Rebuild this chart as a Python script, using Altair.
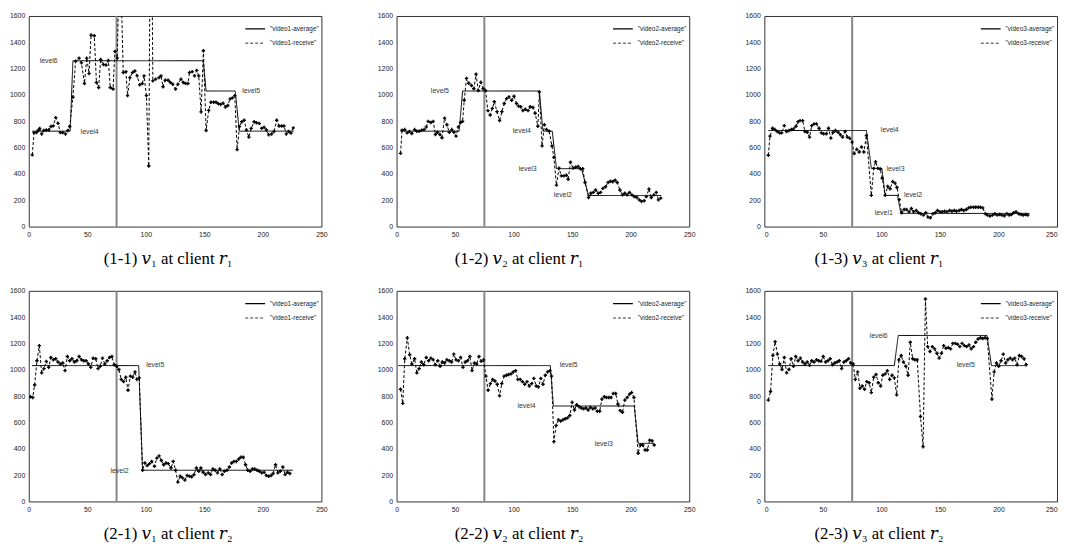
import altair as alt
import pandas as pd

# ---------------- data ----------------
# (1-1) video1 at r1
r11_recv = [(3,545),(4.5,714),(6.5,714),(8,730),(9.3,746),(11,704),(12.7,730),(15,734),(17,734),(19,760),
            (21,765),(23,828),(25,784),(27,714),(29,714),(31.4,704),(33.4,730),(35,760),(37.7,983),(40,1256),
            (43,1280),(45,1244),(47.6,1087),(49.5,1280),(51.5,1162),(53.2,1455),(56,1450),(57.8,1095),(59.7,1057),
            (61.4,1269),(63.7,1232),(66,1227),(68,1262),(69.6,1057),(72,1045),(73.6,1331),(75.6,1280),(77.8,2200),
            (80.7,1170),(83,1177),(84.4,995),(86.4,1132),(88.6,1170),(90.6,1182),(92.6,1145),(94.8,1077),(97,1087),
            (98.5,1145),(100.5,995),(102.5,460),(104.3,3000),(106,1107),(108.4,1120),(111.3,1132),(113,1145),
            (114.7,1062),(116.6,1112),(119,1112),(121,1095),(123,1082),(125.4,1045),(127.4,1082),(130,1120),
            (132,1095),(134,1087),(136,1087),(137.3,1170),(139.6,1177),(141.6,1145),(143.5,1187),(145.2,1145),
            (147.2,871),(149.2,1336),(151.5,730),(153.7,883),(155.7,945),(158,945),(160,945),(162,933),(164,928),
            (166,938),(168,908),(170,920),(172,970),(174,978),(176,995),(178,585),(180,760),(182,796),(184,808),
            (186,734),(188,680),(190,746),(192.5,796),(194.5,789),(196.8,784),(199,746),(201,754),(203,734),
            (205,697),(207.5,704),(209.5,722),(211.8,808),(213.8,764),(216,764),(218,764),(220,704),(222,722),
            (224,710),(226,750)]
r11_avg = [(3,725),(35.4,725),(37.7,1260),(149,1260),(151.5,1030),(176.4,1030),(179.8,725),(226.5,725)]
r11_lab = [("level6",17,1256),("level4",52,722),("level5",190,1028)]

# (1-2) video2 at r1
r12_recv = [(3.4,556),(4.7,732),(7,737),(9,712),(11,722),(13,707),(15.4,737),(17.3,724),(19.3,724),(21.5,732),
            (23.5,737),(25.4,757),(27,799),(29.3,791),(31.3,799),(33.2,700),(35,717),(37,700),(38.8,675),(41,824),
            (43,774),(45,717),(47.2,737),(49,717),(50.8,687),(52.8,757),(54.7,791),(56.4,799),(57.8,960),
            (59.8,1126),(61.7,1089),(64,1072),(66,1047),(67.9,1158),(69.8,1034),(72,1096),(74,1047),(76,1034),
            (78,881),(80,848),(81.8,898),(83.5,948),(85.8,873),(88,806),(90,873),(92,935),(94,972),(96,985),
            (98.3,960),(100.3,990),(102.5,935),(104.2,915),(106,910),(108,881),(110,891),(112.3,881),(114.2,910),
            (116.5,905),(118.4,861),(120.7,762),(122,1022),(124.3,613),(126.3,774),(128.2,737),(130.4,724),
            (132.7,613),(134.4,526),(136.6,315),(138.8,444),(140.8,385),(143,385),(145,390),(146.6,360),
            (148.6,489),(150.8,444),(152.8,451),(155,456),(157,439),(159,439),(161,335),(164,221),(166,253),
            (168,260),(170,278),(172.3,253),(174.3,260),(176.3,290),(178.5,303),(180.7,335),(182.7,345),
            (184.6,340),(186.6,352),(188.5,335),(190.8,278),(193,241),(195,253),(197,241),(199,260),(201,241),
            (203,228),(205.3,221),(207.3,203),(209.2,191),(211.5,196),(213.4,228),(215.6,285),(217.6,221),
            (219.8,241),(221.8,260),(223.7,203),(225.7,216)]
r12_avg = [(3.4,725),(53.5,725),(56.4,1030),(122,1030),(125,725),(133,725),(136.6,440),(158,440),(164,236),(226,236)]
r12_lab = [("level5",37,1030),("level4",107,725),("level3",112,440),("level2",142,236)]

# (1-3) video3 at r1
r13_recv = [(3.4,542),(4.8,687),(7,747),(9,737),(11,722),(13,712),(14.8,712),(17,767),(19,722),(21,730),
            (23,737),(24.9,742),(27,762),(28.8,797),(30.5,805),(32.7,805),(34.7,722),(36.6,717),(38.6,680),
            (40.5,767),(42.5,780),(44.5,780),(46.7,747),(48.7,712),(50.6,705),(52.9,705),(54.8,747),(56.8,672),
            (58.7,717),(60.7,730),(63,717),(65,697),(66.8,680),(69,722),(70.9,680),(72.8,672),(75,642),(76.8,555),
            (79,587),(81,567),(83,605),(85,567),(87.2,692),(91.4,237),(93.4,442),(95,492),(97,442),(99,437),
            (100.7,367),(103.2,237),(105.4,305),(107.4,287),(109.6,342),(111.6,330),(113.3,297),(115.2,205),
            (117.2,105),(119.4,130),(121.4,130),(123.6,112),(125.6,137),(127.5,112),(129.7,122),(131.7,105),
            (133.7,97),(135.9,87),(137.9,105),(139.8,72),(141.8,67),(144,97),(146,105),(147.9,122),(150,112),
            (152,112),(154,117),(156,112),(158.3,122),(160.2,117),(162.2,122),(164.1,117),(166.4,122),(168.3,130),
            (170.3,122),(172.5,130),(174.5,142),(176.4,147),(178.7,147),(180.6,147),(182.6,147),(184.5,147),
            (186.5,142),(188.8,97),(190.7,87),(192.7,80),(194.9,87),(196.9,97),(198.8,87),(201,92),(203,87),
            (205,82),(207.2,97),(209.2,87),(211,92),(213,105),(215,112),(217.3,97),(219.2,92),(221.2,87),
            (223.2,92),(225,87)]
r13_avg = [(3.4,730),(87.2,730),(91.4,442),(100.4,442),(103.2,237),(113.8,237),(116.6,100),(226.6,100)]
r13_lab = [("level4",107,730),("level3",112,437),("level2",127,237),("level1",102,100)]

# (2-1) video1 at r2
r21_recv = [(1.4,795),(3.4,790),(5,885),(7,1069),(9,1184),(11,977),(13,1009),(15,1064),(17,1019),(18.9,1094),
            (21,1076),(23,1084),(25,1059),(27,1044),(29,1052),(31,994),(33,1101),(35,1069),(36.9,1084),(39,1059),
            (41,1069),(43,1101),(45,1076),(47,1069),(49,1069),(51,1044),(53,1019),(55,1089),(57.2,1084),
            (59.2,1009),(61,1027),(63,1089),(65,1044),(67,1069),(69,1094),(71,1101),(73,1039),(75,1027),(77,1002),
            (79,927),(81,910),(82.9,944),(84.8,845),(86.8,952),(88.8,944),(90.8,984),(92.4,927),(94.4,939),
            (97.2,237),(99.2,292),(101.2,272),(103.2,287),(105,304),(107.4,267),(109.4,329),(111.3,346),
            (113.3,311),(115.3,279),(117.2,292),(119.2,287),(121.5,254),(123.4,304),(125.4,237),(127.4,147),
            (129.4,192),(131.3,179),(133.3,162),(135.3,197),(137.3,192),(139.2,187),(141.2,204),(143.2,254),
            (145.2,229),(147,254),(149,222),(151,204),(153.3,217),(155.3,204),(157.3,247),(159.2,237),(161.2,217),
            (163.2,247),(165.2,204),(167.1,229),(169.4,237),(171.4,262),(173.3,292),(175.3,304),(177.3,304),
            (179.3,321),(181.2,336),(183.2,336),(185.2,279),(187.1,237),(189.1,229),(191,247),(193,247),(195,237),
            (197,229),(199,217),(201,222),(203,197),(205,192),(207,197),(208.8,212),(210.8,279),(212.8,217),
            (214.8,229),(217,262),(219,204),(221,222),(223,212)]
r21_avg = [(2.8,1032),(93.9,1032),(97.2,237),(225.5,237)]
r21_lab = [("level5",108,1034),("level2",77.5,234)]

# (2-2) video2 at r2
r22_recv = [(3.4,852),(5.3,745),(7,1084),(9.2,1243),(11.2,1114),(13.1,1044),(15.4,1084),(17.3,977),(19.3,1009),
            (21.2,1059),(23.2,1039),(25.4,1094),(27.4,1069),(29.3,1089),(31.3,1076),(33.2,1039),(35.2,1069),
            (37.2,1027),(39.1,1059),(41,1052),(43,1076),(45,1069),(47,1059),(48.9,1119),(50.8,1076),(52.8,1069),
            (54.7,1094),(56.7,1019),(58.7,1059),(60.6,1069),(62.6,1101),(64.5,994),(66.5,1052),(68.4,1044),
            (70.4,1101),(72.3,1064),(74.3,1076),(76.3,952),(78.2,845),(80.2,895),(82.1,927),(84,915),(86,890),
            (88,802),(89.9,895),(91.9,952),(93.9,959),(95.8,964),(97.8,969),(99.7,984),(101.7,994),(103.6,927),
            (105.6,927),(107.5,910),(109.5,890),(111.5,910),(113.4,877),(115.4,895),(117.3,935),(119.3,877),
            (121.2,870),(123.2,935),(125.1,890),(127.1,959),(129,984),(131,994),(132.4,952),(134.4,454),
            (136.3,578),(138.3,620),(140.2,610),(142.2,620),(144.1,628),(146.1,635),(148,653),(150,753),(152,695),
            (153.9,735),(155.9,720),(157.8,710),(159.8,703),(161.7,710),(163.7,695),(165.6,715),(167.6,703),
            (169.6,710),(171.5,685),(173.5,685),(175.4,777),(177.4,795),(179.3,790),(181.3,790),(183.2,790),
            (185.2,820),(187.2,820),(189.1,740),(191,690),(193,678),(195,770),(197,790),(199,815),(200.8,827),
            (202.8,790),(206.4,366),(208.4,429),(210.3,429),(212.3,391),(214.2,391),(216.2,466),(218.2,461),
            (220.1,429)]
r22_avg = [(1.5,1032),(131.3,1032),(134,725),(203,725),(206.4,441),(219.8,441)]
r22_lab = [("level5",147,1034),("level4",111,727),("level3",177,436)]

# (2-3) video3 at r2
r23_recv = [(3.4,770),(5.3,835),(7.3,1109),(9.2,1214),(11.2,1119),(13.1,1044),(15.1,1002),(17,1094),(19,977),
            (21,1002),(22.9,1084),(24.9,1027),(26.8,1101),(28.8,1069),(30.8,1089),(32.7,1059),(34.7,1044),
            (36.6,1059),(38.6,1034),(40.5,1069),(42.5,1059),(44.5,1076),(46.4,1069),(48.4,1064),(50.3,1101),
            (52.3,1059),(54.3,1069),(56.2,1084),(58.2,1039),(60.1,1052),(62.1,1059),(64,1069),(66,1009),(68,1059),
            (69.9,1069),(71.9,1084),(73.8,1052),(75.8,1044),(77.7,927),(79.7,984),(81.7,860),(83.6,877),(85.6,852),
            (87.5,910),(89.5,902),(91.4,827),(93.4,944),(95.4,964),(97.3,902),(99.3,877),(101.2,959),(103.2,969),
            (105.1,994),(107.1,927),(109.1,959),(111,939),(113,810),(114.9,1076),(116.9,1109),(118.8,1059),
            (120.8,1027),(122.8,959),(124.7,1209),(126.7,1084),(128.6,1076),(130.6,1076),(133.4,645),(135.6,416),
            (137.6,1538),(139.5,1176),(141.5,1139),(143.5,1176),(145.4,1159),(147.4,1126),(149.3,1089),(151.3,1126),
            (153.2,1184),(155.2,1164),(157.2,1169),(159.1,1159),(161,1201),(163,1201),(165,1194),(167,1176),
            (168.9,1201),(170.9,1184),(172.8,1176),(174.8,1189),(176.7,1159),(178.7,1176),(180.6,1209),(182.6,1234),
            (184.6,1243),(186.5,1238),(188.5,1243),(190.4,1238),(194.4,777),(196.3,984),(198.3,1052),(200.2,1027),
            (202.2,1069),(204.1,1119),(206.1,1052),(208,1076),(210,1089),(212,1076),(213.9,1089),(215.9,1039),
            (217.8,1109),(219.8,1101),(221.8,1084),(223.7,1039)]
r23_avg = [(3.4,1032),(111,1032),(114.4,1261),(190.2,1261),(194,1032),(223.4,1032)]
r23_lab = [("level6",97.6,1258),("level5",172,1034)]

VIDEOS = ["video1", "video2", "video3"]
CAPTIONS = ["(1-1) \U0001D463\u2081 at client \U0001D45F\u2081",
            "(1-2) \U0001D463\u2082 at client \U0001D45F\u2081",
            "(1-3) \U0001D463\u2083 at client \U0001D45F\u2081",
            "(2-1) \U0001D463\u2081 at client \U0001D45F\u2082",
            "(2-2) \U0001D463\u2082 at client \U0001D45F\u2082",
            "(2-3) \U0001D463\u2083 at client \U0001D45F\u2082"]
X_TICKS = [0, 50, 100, 150, 200, 250]
Y_TICKS = [0, 200, 400, 600, 800, 1000, 1200, 1400, 1600]
VLINE_T = [75]

SANS = "Liberation Sans"
SERIF = "Liberation Serif, DejaVu Serif, serif"
W, H = 296, 213


def panel(recv, avg, labs, vid, caption, dx, flush=False):
    avg_name = f'"{vid}-average"'
    recv_name = f'"{vid}-receive"'
    lines = pd.DataFrame(
        [{"t": t, "kbps": v, "series": avg_name, "order": i} for i, (t, v) in enumerate(avg)]
        + [{"t": t, "kbps": v, "series": recv_name, "order": i} for i, (t, v) in enumerate(recv)]
    )
    pts = pd.DataFrame([{"t": t, "kbps": v} for t, v in recv])
    lab = pd.DataFrame([{"t": t, "kbps": v, "label": s} for s, t, v in labs])
    vl = pd.DataFrame({"t": VLINE_T})

    xsc = alt.Scale(domain=[0, 250], nice=False, zero=False)
    ysc = alt.Scale(domain=[0, 1600], nice=False)
    X = alt.X("t:Q", scale=xsc, title=None,
              axis=alt.Axis(values=X_TICKS, format="d", grid=False, ticks=False, domain=False,
                            labelFont=SANS, labelFontSize=7, labelColor="#222", labelPadding=4,
                            labelFlush=flush))
    Y = alt.Y("kbps:Q", scale=ysc, title=None,
              axis=alt.Axis(values=Y_TICKS, format="d", grid=False, ticks=False, domain=False,
                            labelFont=SANS, labelFontSize=7, labelColor="#222", labelPadding=4))

    leg = alt.Legend(title=None, orient="top-right", offset=2, padding=0,
                     labelFont=SANS, labelFontSize=6.5, labelColor="#222",
                     symbolType="stroke", symbolSize=400, symbolStrokeWidth=1,
                     rowPadding=-1, labelOffset=4, labelLimit=200)
    dom = [avg_name, recv_name]

    vline = alt.Chart(vl).mark_rule(color="#858585", strokeWidth=2).encode(x=X)
    line = alt.Chart(lines).mark_line(clip=True, strokeWidth=1.0).encode(
        x=X, y=Y, order="order:Q",
        color=alt.Color("series:N", scale=alt.Scale(domain=dom, range=["#000000", "#000000"]), legend=leg),
        strokeDash=alt.StrokeDash("series:N", scale=alt.Scale(domain=dom, range=[[1, 0], [3, 2]]), legend=leg),
        strokeWidth=alt.StrokeWidth("series:N", scale=alt.Scale(domain=dom, range=[1.3, 0.8]), legend=None),
    )
    points = alt.Chart(pts).mark_point(shape="cross", filled=True, size=12, clip=True,
                                       color="#000000", opacity=1).encode(x=X, y=Y)
    labels = alt.Chart(lab).mark_text(font=SANS, fontSize=7, color="#333", align="center",
                                      baseline="middle").encode(x=X, y=Y, text="label:N")
    return alt.layer(vline, line, points, labels).properties(
        width=W, height=H,
        title=alt.TitleParams(text=caption, orient="bottom", anchor="middle", font=SERIF,
                              fontSize=17, fontWeight="normal", color="#000", offset=14, dx=dx),
    )


DX = [-7, -24, -32]
row1 = alt.hconcat(
    panel(r11_recv, r11_avg, r11_lab, VIDEOS[0], CAPTIONS[0], DX[0]),
    panel(r12_recv, r12_avg, r12_lab, VIDEOS[1], CAPTIONS[1], DX[1]),
    panel(r13_recv, r13_avg, r13_lab, VIDEOS[2], CAPTIONS[2], DX[2], flush=True),
    spacing=48,
).resolve_scale(color="independent", strokeDash="independent", strokeWidth="independent")
row2 = alt.hconcat(
    panel(r21_recv, r21_avg, r21_lab, VIDEOS[0], CAPTIONS[3], DX[0]),
    panel(r22_recv, r22_avg, r22_lab, VIDEOS[1], CAPTIONS[4], DX[1]),
    panel(r23_recv, r23_avg, r23_lab, VIDEOS[2], CAPTIONS[5], DX[2], flush=True),
    spacing=48,
).resolve_scale(color="independent", strokeDash="independent", strokeWidth="independent")

chart = alt.vconcat(row1, row2, spacing=18).resolve_scale(
    color="independent", strokeDash="independent", strokeWidth="independent"
).properties(padding=0, background="white").configure_view(stroke="#333", strokeWidth=1)

chart.save("out.html", embed_options={"renderer": "svg", "actions": False})
